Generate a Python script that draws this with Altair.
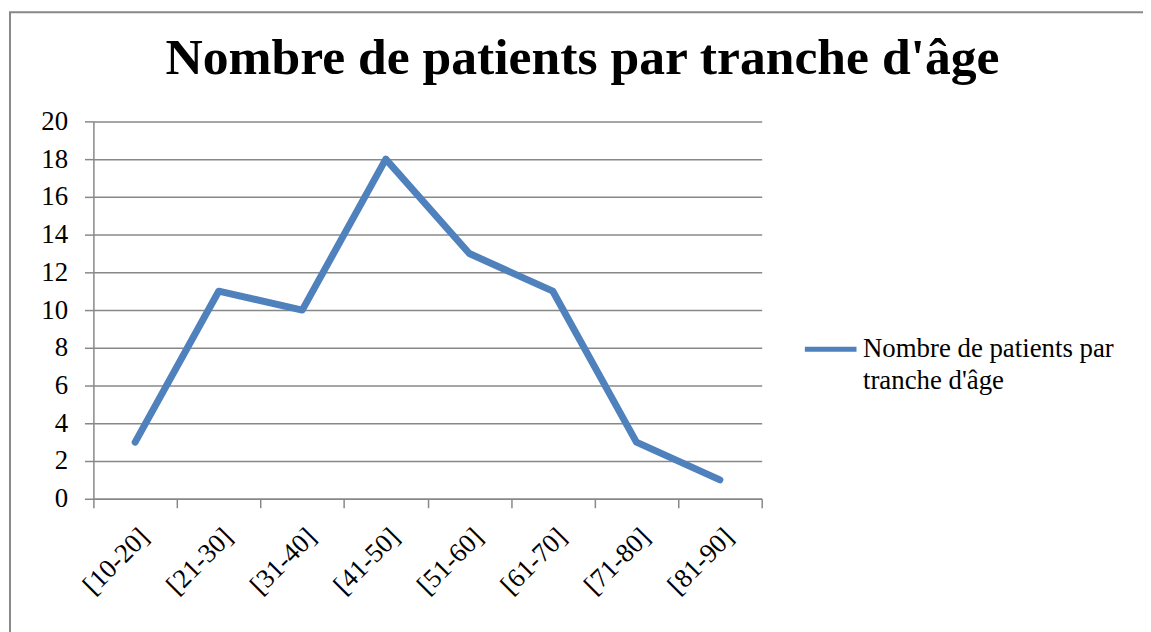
import altair as alt
import pandas as pd

categories = ["[10-20]", "[21-30]", "[31-40]", "[41-50]", "[51-60]", "[61-70]", "[71-80]", "[81-90]"]
values = [3, 11, 10, 18, 13, 11, 3, 1]
series_name = "Nombre de patients par tranche d'âge"

df = pd.DataFrame({"tranche": categories, "patients": values, "serie": [series_name] * len(categories)})

FONT = "Liberation Serif"
GRID = "#888888"

line = alt.Chart(df).mark_line(strokeWidth=7, strokeCap="round", strokeJoin="round").encode(
    x=alt.X("tranche:N", sort=categories, title=None,
            scale=alt.Scale(paddingInner=0, paddingOuter=0),
            axis=alt.Axis(labelAngle=-45, labelFont=FONT, labelFontSize=27, labelColor="black",
                          tickBand="extent", tickColor=GRID, tickSize=9, tickWidth=1.5,
                          domainColor=GRID, domainWidth=1.5, grid=False, labelPadding=16)),
    y=alt.Y("patients:Q", title=None,
            scale=alt.Scale(domain=[0, 20]),
            axis=alt.Axis(values=list(range(0, 21, 2)), labelFont=FONT, labelFontSize=27,
                          labelColor="black", tickColor=GRID, tickSize=9, tickWidth=1.5,
                          domainColor=GRID, domainWidth=1.5, gridColor=GRID, gridWidth=1.5,
                          labelPadding=17)),
    color=alt.Color("serie:N", scale=alt.Scale(range=["#4F81BD"]),
                    legend=alt.Legend(title=None, orient="none", legendX=714, legendY=201,
                                      symbolType="stroke", symbolSize=2704, symbolStrokeWidth=5,
                                      labelFont=FONT, labelFontSize=27, labelColor="black",
                                      labelLimit=400, labelOffset=4, labelBaseline="middle",
                                      labelExpr="['Nombre de patients par', \"tranche d'âge\"]")),
)

border = alt.Chart(pd.DataFrame({"b": [0]})).mark_rect(
    fill=None, stroke=GRID, strokeWidth=2
).encode(
    x=alt.value(-84), x2=alt.value(1200), y=alt.value(-110), y2=alt.value(700)
)

chart = alt.layer(border, line).properties(
    width=673, height=380,
    title=alt.TitleParams(series_name, font=FONT, fontSize=52, fontWeight="bold", color="black",
                          anchor="middle", dx=156, dy=158, offset=43, baseline="alphabetic"),
    autosize=alt.AutoSizeParams(type="none"),
    padding={"left": 86, "top": 112, "right": 384, "bottom": 132},
).configure(
    background="white", style={"guide-label": {"lineHeight": 32}}
).configure_view(stroke=None)

chart.save("out.html", embed_options={"renderer": "svg", "actions": False})
